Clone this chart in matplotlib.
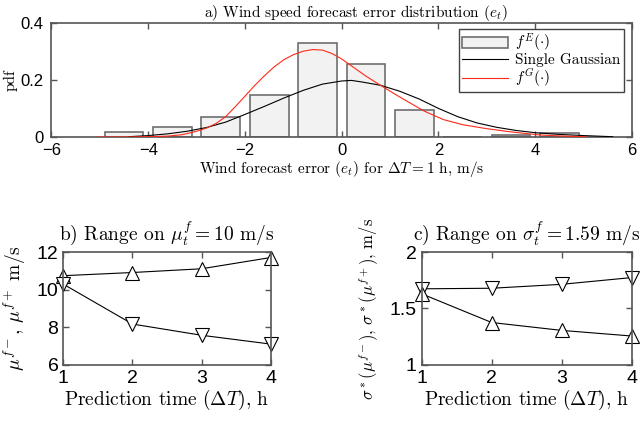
import numpy as np
import matplotlib
matplotlib.use("Agg")
import matplotlib.pyplot as plt

plt.rcParams['mathtext.fontset'] = 'cm'
plt.rcParams['font.family'] = ['Liberation Sans', 'DejaVu Sans']
plt.rcParams['axes.unicode_minus'] = True

# histogram of forecast error (empirical pdf)
bin_centers = [-4.5, -3.5, -2.5, -1.5, -0.5, 0.5, 1.5, 2.5, 3.5, 4.5]
bin_pdf = [0.019, 0.036, 0.070, 0.146, 0.330, 0.254, 0.094, 0.0, 0.006, 0.013]

# single gaussian fit
gauss_x = [-4.4, -4.0, -3.6, -3.2, -2.8, -2.4, -2.0, -1.6, -1.2, -0.8, -0.4,
           0.0, 0.2, 0.4, 0.8, 1.2, 1.6, 2.0, 2.4, 2.8, 3.2, 3.6, 4.0, 4.5, 5.0, 5.6]
gauss_y = [0.001, 0.005, 0.011, 0.020, 0.033, 0.052, 0.079, 0.107, 0.136, 0.163, 0.185,
           0.196, 0.198, 0.193, 0.181, 0.160, 0.133, 0.100, 0.071, 0.049, 0.034, 0.023,
           0.015, 0.009, 0.005, 0.001]

# mixture pdf f^G
mix_x = [-5.05, -4.5, -4.0, -3.6, -3.3, -3.0, -2.8, -2.6, -2.4, -2.2, -2.0, -1.8, -1.6,
         -1.4, -1.2, -1.0, -0.8, -0.6, -0.4, -0.2, 0.0, 0.25, 0.5, 0.8, 1.05, 1.3,
         1.7, 2.1, 2.5, 3.0, 3.4, 3.6, 4.1, 4.6, 5.05]
mix_y = [0.0, 0.0, 0.001, 0.003, 0.008, 0.020, 0.031, 0.047, 0.071, 0.106, 0.143,
         0.180, 0.214, 0.245, 0.270, 0.288, 0.300, 0.306, 0.304, 0.292, 0.273, 0.243,
         0.213, 0.181, 0.155, 0.130, 0.091, 0.061, 0.043, 0.029, 0.020, 0.016, 0.007,
         0.003, 0.001]

# panel b and c
dT = [1, 2, 3, 4]
mu_plus = [10.75, 10.92, 11.12, 11.72]
mu_minus = [10.3, 8.17, 7.57, 7.1]
sig_plus = [1.675, 1.68, 1.715, 1.775]
sig_minus = [1.63, 1.375, 1.305, 1.255]

serif = 'cmr10'
edge = '#555555'


def style_box(ax):
    for s in ax.spines.values():
        s.set_color(edge)
        s.set_linewidth(1.2)
    ax.tick_params(direction='in', top=True, right=True, color=edge, width=1.0, length=4)


fig = plt.figure(figsize=(6.42, 4.24), dpi=100)

# ---- top panel
ax = fig.add_axes([0.0802, 0.6769, 0.9042, 0.2696])
bars = ax.bar(bin_centers, bin_pdf, width=0.8, color='#f2f2f2', edgecolor='#6e6e6e',
              linewidth=1.2, zorder=1)
l1, = ax.plot(gauss_x, gauss_y, color='black', lw=0.8, zorder=3)
l2, = ax.plot(mix_x, mix_y, color='#ff2a1a', lw=0.8, zorder=3)
ax.set_xlim(-6, 6)
ax.set_ylim(0, 0.4)
ax.set_xticks([-6, -4, -2, 0, 2, 4, 6])
ax.set_yticks([0, 0.2, 0.4])
ax.set_yticklabels(['0', '0.2', '0.4'])
style_box(ax)
ax.tick_params(labelsize=12)
ax.tick_params(axis='y', pad=6)
ax.tick_params(axis='x', pad=4)
ax.set_title(r'a) Wind speed forecast error distribution $(e_t)$', fontfamily=serif,
             fontsize=11, pad=4, x=0.524)
ax.set_xlabel(r'Wind forecast error $(e_t)$ for $\Delta T = 1$ h, m/s', fontfamily=serif,
              fontsize=11, labelpad=1)
ax.set_ylabel('pdf', fontfamily=serif, fontsize=11, labelpad=2)
leg = ax.legend([bars, l1, l2], [r'$f^E(\cdot)$', 'Single Gaussian', r'$f^G(\cdot)$'],
                loc='upper right', bbox_to_anchor=(0.986, 0.945), borderaxespad=0,
                prop={'family': serif, 'size': 11},
                fancybox=False, framealpha=1, edgecolor='#444444', handlelength=3.0,
                borderpad=0.2, labelspacing=-0.05, handletextpad=0.5)
leg.get_frame().set_linewidth(1.0)

# ---- panel b
axb = fig.add_axes([0.0986, 0.1399, 0.3231, 0.2651])
axb.plot(dT, mu_plus, color='black', lw=0.8, marker='^', ms=10, mfc='white', mec='black', mew=0.8)
axb.plot(dT, mu_minus, color='black', lw=0.8, marker='v', ms=10, mfc='white', mec='black', mew=0.8)
axb.set_xlim(1, 4)
axb.set_ylim(6, 12)
axb.set_xticks(dT)
axb.set_yticks([6, 8, 10, 12])
style_box(axb)
axb.tick_params(labelsize=14)
axb.set_title(r'b) Range on $\mu_t^f = 10$ m/s', fontfamily=serif, fontsize=14, pad=9)
axb.set_xlabel(r'Prediction time $(\Delta T)$, h', fontfamily=serif, fontsize=14, labelpad=1)
axb.set_ylabel(r'$\mu^{f-}$, $\mu^{f+}$ m/s', fontfamily=serif, fontsize=14, labelpad=6)

# ---- panel c
axc = fig.add_axes([0.6569, 0.1399, 0.3271, 0.2651])
axc.plot(dT, sig_plus, color='black', lw=0.8, marker='v', ms=10, mfc='white', mec='black', mew=0.8)
axc.plot(dT, sig_minus, color='black', lw=0.8, marker='^', ms=10, mfc='white', mec='black', mew=0.8)
axc.set_xlim(1, 4)
axc.set_ylim(1, 2)
axc.set_xticks(dT)
axc.set_yticks([1, 1.5, 2])
axc.set_yticklabels(['1', '1.5', '2'])
style_box(axc)
axc.tick_params(labelsize=14)
axc.set_title(r'c) Range on $\sigma_t^f = 1.59$ m/s', fontfamily=serif, fontsize=14, pad=9)
axc.set_xlabel(r'Prediction time $(\Delta T)$, h', fontfamily=serif, fontsize=14, labelpad=1)
axc.set_ylabel(r'$\sigma^*(\mu^{f-})$, $\sigma^*(\mu^{f+})$, m/s', fontfamily=serif,
               fontsize=12, labelpad=6)

for a in (axb, axc):
    for ln in a.lines:
        ln.set_clip_on(False)

fig.savefig('out.png', dpi=100)
